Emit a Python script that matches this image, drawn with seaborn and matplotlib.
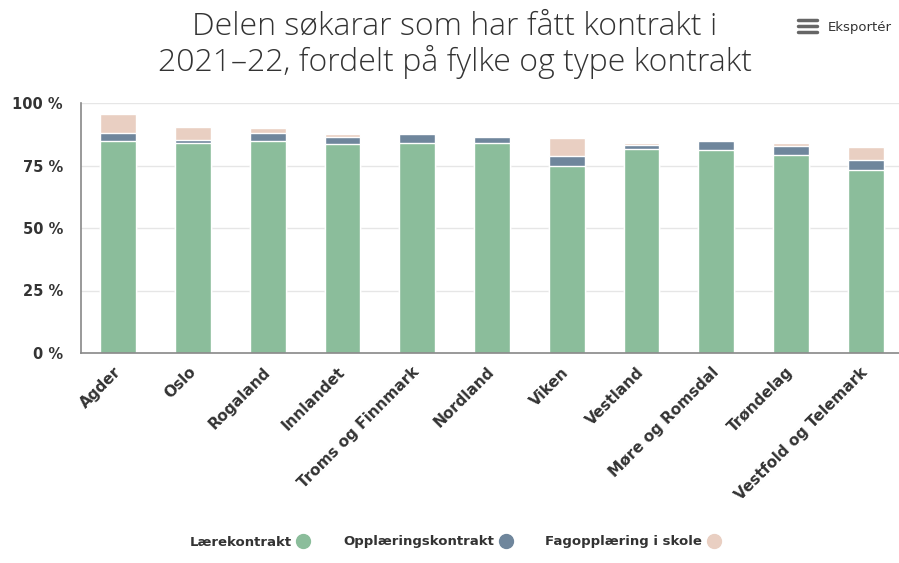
import matplotlib
matplotlib.use("Agg")
import matplotlib.pyplot as plt
from matplotlib.lines import Line2D
import seaborn as sns
import pandas as pd
import numpy as np

categories = ["Agder", "Oslo", "Rogaland", "Innlandet", "Troms og Finnmark",
              "Nordland", "Viken", "Vestland", "Møre og Romsdal", "Trøndelag",
              "Vestfold og Telemark"]
laerekontrakt = [84.7, 83.9, 84.9, 83.5, 84.1, 84.1, 74.7, 81.6, 81.1, 79.1, 73.1]
opplaeringskontrakt = [3.2, 1.4, 3.0, 2.9, 3.4, 2.3, 4.3, 1.7, 3.9, 3.9, 4.0]
fagopplaering_skole = [7.7, 5.0, 1.9, 1.1, 0.0, 0.0, 6.9, 0.9, 0.0, 1.1, 5.3]
series_names = ["Lærekontrakt", "Opplæringskontrakt", "Fagopplæring i skole"]
yticks = [0, 25, 50, 75, 100]
ytick_labels = ["0 %", "25 %", "50 %", "75 %", "100 %"]

colors = ["#8bbd9b", "#6f869c", "#e9cfc2"]

sns.set_theme(style="white")
plt.rcParams["font.family"] = ["DejaVu Sans"]

df = pd.DataFrame({
    "fylke": categories,
    "l": laerekontrakt,
    "o": opplaeringskontrakt,
    "f": fagopplaering_skole,
})
df["lo"] = df["l"] + df["o"]
df["lof"] = df["lo"] + df["f"]

fig = plt.figure(figsize=(8.99, 5.63), dpi=100)
ax = fig.add_axes([81 / 899, 1 - 353 / 563, (903 - 81) / 899, 250 / 563])

for col, c in zip(["lof", "lo", "l"], [colors[2], colors[1], colors[0]]):
    sns.barplot(data=df, x="fylke", y=col, color=c, width=0.48, ax=ax,
                edgecolor="white", linewidth=1.0, saturation=1)

ax.set_ylim(0, 100)
ax.set_xlim(-0.5, len(categories) - 0.5)
ax.set_yticks(yticks)
ax.set_yticklabels(ytick_labels)
ax.set_xlabel("")
ax.set_ylabel("")
ax.yaxis.grid(True, color="#e6e6e6", linewidth=1)
ax.set_axisbelow(True)
for s in ["top", "right"]:
    ax.spines[s].set_visible(False)
ax.spines["left"].set_color("#888888")
ax.spines["bottom"].set_color("#888888")
ax.spines["left"].set_linewidth(1.2)
ax.spines["bottom"].set_linewidth(1.2)
ax.tick_params(axis="both", length=0)
ax.tick_params(axis="y", pad=13)
for lab in ax.get_yticklabels():
    lab.set_fontweight("bold")
    lab.set_fontsize(10.5)
    lab.set_color("#333333")
ax.set_xticks(range(len(categories)))
ax.set_xticklabels(categories, rotation=45, ha="right", va="center",
                   rotation_mode="anchor",
                   fontsize=11, fontweight="bold", color="#333333")
ax.tick_params(axis="x", pad=12)

for yy, txt in [(27, "Delen søkarar som har fått kontrakt i"),
                (62, "2021–22, fordelt på fylke og type kontrakt")]:
    fig.text(455 / 899, 1 - yy / 563, txt, ha="center", va="center",
             fontsize=23, color="#333333", fontweight="light",
             family=["Open Sans", "DejaVu Sans"])

# Export menu
for yy in [20, 26, 32]:
    fig.add_artist(Line2D([798 / 899, 817 / 899], [1 - yy / 563, 1 - yy / 563],
                          color="#666666", linewidth=2.5, solid_capstyle="round"))
fig.text(828 / 899, 1 - 27 / 563, "Eksportér", ha="left", va="center",
         fontsize=9.5, color="#333333")

handles = [Line2D([], [], linestyle="none", marker="o", markersize=10,
                  markerfacecolor=c, markeredgecolor=c) for c in colors]
leg = fig.legend(handles, series_names, loc="center", bbox_to_anchor=(457 / 899, 1 - 542 / 563),
                 ncol=3, frameon=False, markerfirst=False, handletextpad=0.1,
                 handlelength=1.6, columnspacing=2.2, prop={"weight": "bold", "size": 9.5})
for t in leg.get_texts():
    t.set_color("#333333")

fig.savefig("out.png", dpi=100)
